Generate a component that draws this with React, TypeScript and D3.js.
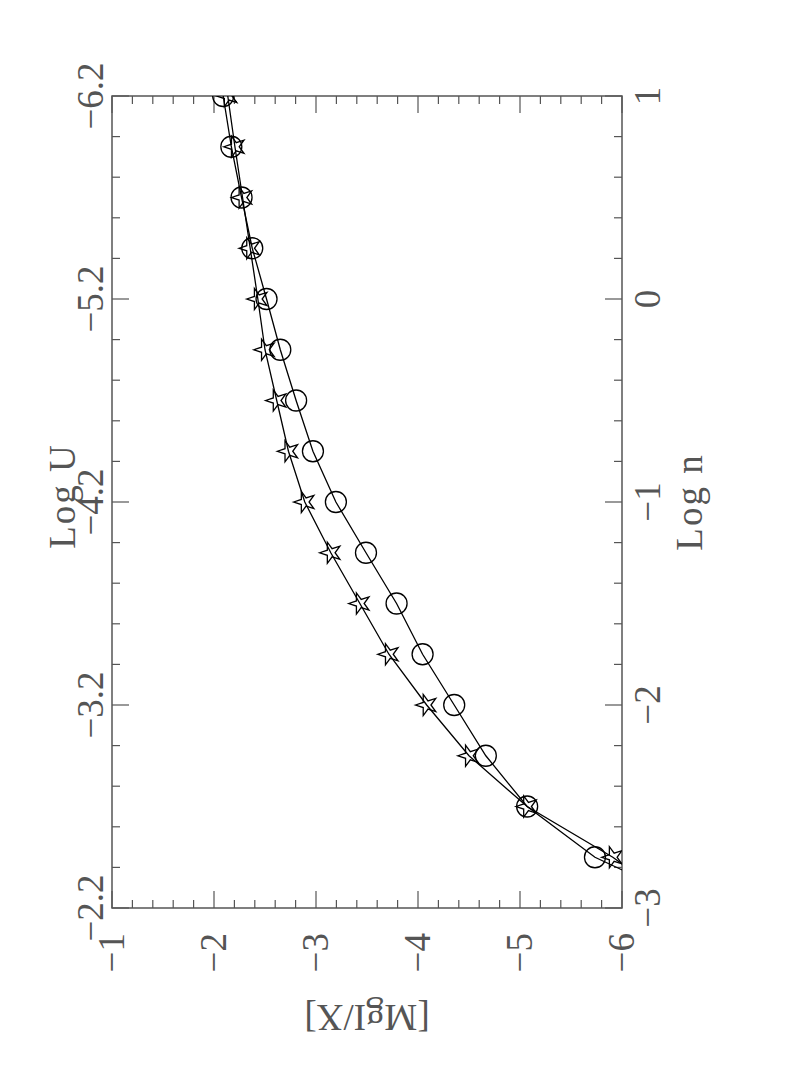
import React from "react";
import * as d3 from "d3";

// Data (original, unrotated chart: x = Log n, y = [MgI/X])
const logN = [1, 0.75, 0.5, 0.25, 0, -0.25, -0.5, -0.75, -1, -1.25, -1.5, -1.75, -2, -2.25, -2.5, -2.75, -3];
const mgCircles = [-2.09, -2.17, -2.27, -2.375, -2.515, -2.65, -2.805, -2.97, -3.195, -3.49, -3.79, -4.045, -4.355, -4.665, -5.07, -5.735, -6.8];
const mgStars = [-2.135, -2.205, -2.28, -2.355, -2.43, -2.5, -2.615, -2.73, -2.89, -3.145, -3.43, -3.715, -4.085, -4.5, -5.07, -5.91, -6.6];
const logNTicks = [-3, -2, -1, 0, 1];
const logUTicks = [-2.2, -3.2, -4.2, -5.2, -6.2];
const mgTicks = [-1, -2, -3, -4, -5, -6];

const W = 812; // original x-axis length (screen vertical)
const H = 510; // original y-axis length (screen horizontal)
const FONT = "'Liberation Serif', 'DejaVu Serif', serif";
const AX = "#555";
const TXT = "#555";

const fmt = (v: number, d = 0) => (v < 0 ? "\u2212" : "") + Math.abs(v).toFixed(d);

export default function App() {
  const x = d3.scaleLinear().domain([-3, 1]).range([0, W]);
  const u = d3.scaleLinear().domain([-2.2, -6.2]).range([0, W]);
  const y = d3.scaleLinear().domain([-1, -6]).range([0, H]);

  const line = d3
    .line<[number, number]>()
    .x((d) => x(d[0]))
    .y((d) => y(d[1]));
  const circPts: [number, number][] = logN.map((n, i) => [n, mgCircles[i]]);
  const starPts: [number, number][] = logN.map((n, i) => [n, mgStars[i]]);
  const star = d3.symbol().type(d3.symbolStar).size(140)() as string;

  const isMajor = (v: number) => Math.abs(v - Math.round(v)) < 1e-6;
  const xMinor = d3.range(0, 21).map((i) => -3 + i * 0.2);
  const uMinor = d3.range(0, 21).map((i) => -2.2 - i * 0.2);
  const yMinor = d3.range(0, 26).map((i) => -1 - i * 0.2);
  const uMajor = (v: number) => Math.abs((v + 0.2) - Math.round(v + 0.2)) < 1e-6;

  const MAJ = 17;
  const MIN = 8;

  return (
    <svg width={797} height={1067} style={{ position: "absolute", left: 0, top: 0, background: "#fff" }}>
      <rect x={0} y={0} width={797} height={1067} fill="#fff" />
      <g transform="translate(112,908) rotate(-90)">
        <defs>
          <clipPath id="plotclip">
            <rect x={0} y={0} width={W} height={H} />
          </clipPath>
        </defs>
        {/* bottom (Log n) ticks */}
        {xMinor.map((v, i) => (
          <line key={"xb" + i} x1={x(v)} x2={x(v)} y1={H} y2={H - (isMajor(v) ? MAJ : MIN)} stroke={AX} strokeWidth={1.2} />
        ))}
        {/* top (Log U) ticks */}
        {uMinor.map((v, i) => (
          <line key={"ut" + i} x1={u(v)} x2={u(v)} y1={0} y2={uMajor(v) ? MAJ : MIN} stroke={AX} strokeWidth={1.2} />
        ))}
        {/* left / right ([MgI/X]) ticks */}
        {yMinor.map((v, i) => (
          <g key={"y" + i}>
            <line x1={0} x2={isMajor(v) ? MAJ : MIN} y1={y(v)} y2={y(v)} stroke={AX} strokeWidth={1.2} />
            <line x1={W} x2={W - (isMajor(v) ? MAJ : MIN)} y1={y(v)} y2={y(v)} stroke={AX} strokeWidth={1.2} />
          </g>
        ))}
        <rect x={0} y={0} width={W} height={H} fill="none" stroke={AX} strokeWidth={1.5} />

        <g clipPath="url(#plotclip)">
          <path d={line(circPts) as string} fill="none" stroke="#000" strokeWidth={1.3} />
          <path d={line(starPts) as string} fill="none" stroke="#000" strokeWidth={1.3} />
          {circPts.map((d, i) => (
            <circle key={"c" + i} cx={x(d[0])} cy={y(d[1])} r={10.5} fill="none" stroke="#000" strokeWidth={1.3} />
          ))}
          {starPts.map((d, i) => (
            <path key={"s" + i} d={star} transform={`translate(${x(d[0])},${y(d[1])})`} fill="none" stroke="#000" strokeWidth={1.3} />
          ))}
        </g>

        {/* Log n tick labels */}
        {logNTicks.map((t) => (
          <text key={"xl" + t} x={x(t)} y={H + 38} textAnchor="middle" fontFamily={FONT} fontSize={37} fill={TXT}>
            {fmt(t)}
          </text>
        ))}
        <text x={W / 2} y={H + 80} textAnchor="middle" fontFamily={FONT} fontSize={37} fill={TXT} letterSpacing={2}>
          Log n
        </text>

        {/* Log U tick labels */}
        {logUTicks.map((t) => (
          <text key={"ul" + t} x={u(t)} y={-9} textAnchor="middle" fontFamily={FONT} fontSize={37} fill={TXT}>
            {fmt(t, 1)}
          </text>
        ))}
        <text x={W / 2 + 6} y={-37} textAnchor="middle" fontFamily={FONT} fontSize={37} fill={TXT} letterSpacing={2}>
          Log U
        </text>

        {/* [MgI/X] tick labels */}
        {mgTicks.map((t) => (
          <text key={"yl" + t} x={-25} y={y(t)} dy="0.33em" textAnchor="end" fontFamily={FONT} fontSize={37} fill={TXT}>
            {fmt(t)}
          </text>
        ))}
        <text transform={`translate(-97,${H / 2}) rotate(-90)`} textAnchor="middle" fontFamily={FONT} fontSize={37} fill={TXT}>
          [MgI/X]
        </text>
      </g>
    </svg>
  );
}
